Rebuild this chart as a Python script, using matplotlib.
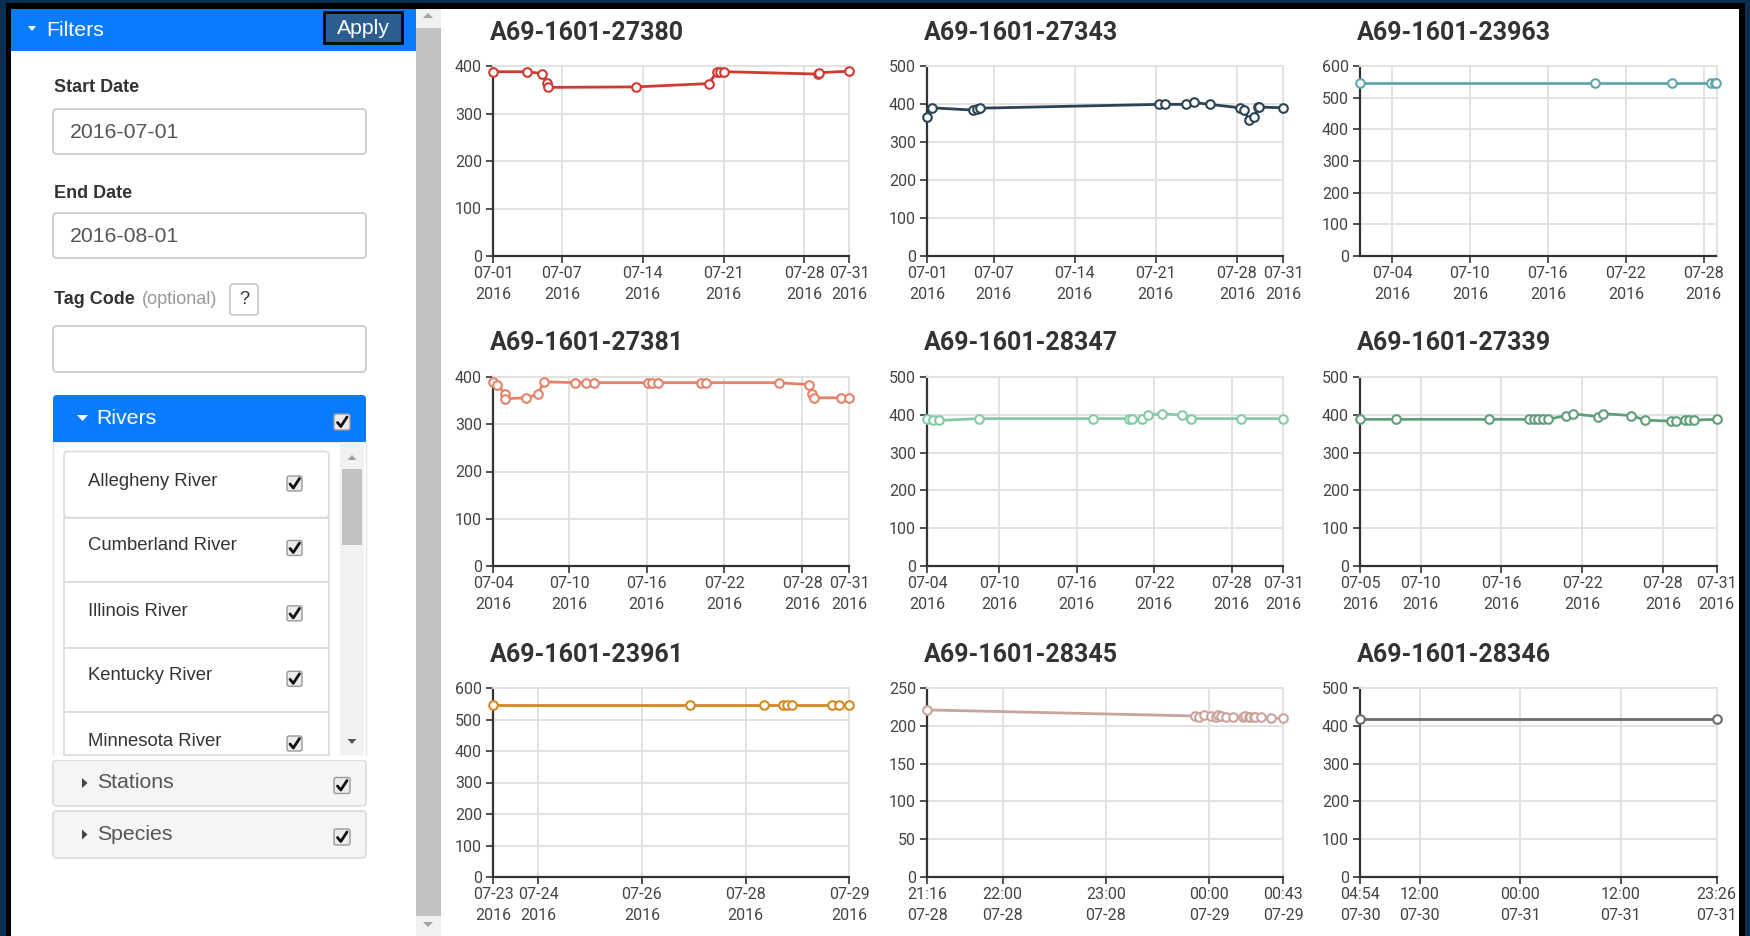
import matplotlib
matplotlib.use("Agg")
import matplotlib.pyplot as plt
import matplotlib.dates as mdates
from matplotlib.patches import Rectangle, FancyBboxPatch, Polygon
import pandas as pd

plt.rcParams['font.family'] = ['Roboto', 'DejaVu Sans']

W, H = 1750, 936

# ---------------- data ----------------
tags = ["A69-1601-27380", "A69-1601-27343", "A69-1601-23963",
        "A69-1601-27381", "A69-1601-28347", "A69-1601-27339",
        "A69-1601-23961", "A69-1601-28345", "A69-1601-28346"]

t_27380 = ["2016-07-01 00:30", "2016-07-04 00:00", "2016-07-05 07:00", "2016-07-05 16:00",
           "2016-07-05 19:00", "2016-07-13 10:00", "2016-07-19 17:00", "2016-07-20 10:00",
           "2016-07-20 17:00", "2016-07-21 02:00", "2016-07-29 05:00", "2016-07-29 07:00",
           "2016-07-31 21:00"]
v_27380 = [388, 388, 384, 365, 355, 356, 363, 387, 387, 388, 383, 386, 389]

t_27343 = ["2016-07-01 06:00", "2016-07-01 16:00", "2016-07-05 05:00", "2016-07-05 13:40",
           "2016-07-05 20:00", "2016-07-21 06:00", "2016-07-21 20:00", "2016-07-23 14:00",
           "2016-07-24 07:00", "2016-07-25 16:00", "2016-07-28 06:00", "2016-07-28 14:30",
           "2016-07-29 01:00", "2016-07-29 11:00", "2016-07-29 19:40", "2016-07-29 21:40",
           "2016-07-31 23:30"]
v_27343 = [365, 390, 384, 386, 389, 399, 399, 399, 404, 399, 390, 384, 358, 365, 391, 392, 390]

t_23963 = ["2016-07-01 13:00", "2016-07-19 15:00", "2016-07-25 13:00", "2016-07-28 14:00",
           "2016-07-28 20:00", "2016-07-28 23:30"]
v_23963 = [547, 547, 547, 547, 547, 547]

t_27381 = ["2016-07-04 03:00", "2016-07-04 11:20", "2016-07-05 00:50", "2016-07-05 01:30",
           "2016-07-06 16:00", "2016-07-07 13:30", "2016-07-08 01:40", "2016-07-10 10:30",
           "2016-07-11 08:00", "2016-07-11 22:20", "2016-07-16 02:30", "2016-07-16 10:00",
           "2016-07-16 21:00", "2016-07-20 05:20", "2016-07-20 14:40", "2016-07-26 04:40",
           "2016-07-28 12:40", "2016-07-28 17:40", "2016-07-28 21:30", "2016-07-31 00:45",
           "2016-07-31 15:00"]
v_27381 = [390, 384, 365, 354, 356, 363, 390, 388, 388, 388, 388, 388, 388, 388, 388, 388,
           384, 365, 356, 356, 356]

t_28347 = ["2016-07-04 09:40", "2016-07-04 20:20", "2016-07-05 07:30", "2016-07-08 09:50",
           "2016-07-17 05:30", "2016-07-20 01:30", "2016-07-20 06:30", "2016-07-21 02:20",
           "2016-07-21 12:40", "2016-07-22 15:30", "2016-07-24 04:00", "2016-07-24 21:00",
           "2016-07-28 17:00", "2016-07-31 23:40"]
v_28347 = [390, 385, 385, 390, 390, 390, 390, 390, 399, 403, 399, 390, 390, 390]

t_27339 = ["2016-07-05 12:00", "2016-07-08 04:30", "2016-07-15 01:40", "2016-07-18 01:30",
           "2016-07-18 10:20", "2016-07-18 17:30", "2016-07-19 01:30", "2016-07-19 11:30",
           "2016-07-20 19:00", "2016-07-21 07:00", "2016-07-23 04:00", "2016-07-23 13:00",
           "2016-07-25 15:40", "2016-07-26 16:30", "2016-07-28 15:00", "2016-07-29 00:00",
           "2016-07-29 15:00", "2016-07-29 22:00", "2016-07-30 08:00", "2016-07-31 23:30"]
v_27339 = [388, 388, 388, 388, 388, 388, 388, 388, 398, 403, 395, 403, 398, 386, 383, 383,
           386, 386, 386, 388]

t_23961 = ["2016-07-23 03:10", "2016-07-26 22:15", "2016-07-28 08:40", "2016-07-28 17:30",
           "2016-07-28 19:10", "2016-07-28 21:30", "2016-07-29 16:00", "2016-07-29 19:10",
           "2016-07-29 23:50"]
v_23961 = [545, 545, 545, 545, 545, 545, 545, 545, 545]

t_28345 = ["2016-07-28 21:16", "2016-07-28 23:52", "2016-07-28 23:54", "2016-07-28 23:57",
           "2016-07-29 00:01", "2016-07-29 00:04", "2016-07-29 00:05", "2016-07-29 00:07",
           "2016-07-29 00:10", "2016-07-29 00:14", "2016-07-29 00:20", "2016-07-29 00:21",
           "2016-07-29 00:23", "2016-07-29 00:24", "2016-07-29 00:26", "2016-07-29 00:27",
           "2016-07-29 00:30", "2016-07-29 00:36", "2016-07-29 00:43"]
v_28345 = [221, 213, 212, 214, 213, 212, 214, 213, 212, 211, 212, 213, 212, 211, 212, 211,
           211, 210, 210]

t_28346 = ["2016-07-30 04:54", "2016-07-31 23:26"]
v_28346 = [417, 417]

times = [t_27380, t_27343, t_23963, t_27381, t_28347, t_27339, t_23961, t_28345, t_28346]
values = [v_27380, v_27343, v_23963, v_27381, v_28347, v_27339, v_23961, v_28345, v_28346]

ticks_x = [
    ["2016-07-01 00:30", "2016-07-07 00:00", "2016-07-14 00:00", "2016-07-21 00:00", "2016-07-28 00:00", "2016-07-31 21:00"],
    ["2016-07-01 06:00", "2016-07-07 00:00", "2016-07-14 00:00", "2016-07-21 00:00", "2016-07-28 00:00", "2016-07-31 23:30"],
    ["2016-07-04 00:00", "2016-07-10 00:00", "2016-07-16 00:00", "2016-07-22 00:00", "2016-07-28 00:00"],
    ["2016-07-04 03:00", "2016-07-10 00:00", "2016-07-16 00:00", "2016-07-22 00:00", "2016-07-28 00:00", "2016-07-31 15:00"],
    ["2016-07-04 09:40", "2016-07-10 00:00", "2016-07-16 00:00", "2016-07-22 00:00", "2016-07-28 00:00", "2016-07-31 23:40"],
    ["2016-07-05 12:00", "2016-07-10 00:00", "2016-07-16 00:00", "2016-07-22 00:00", "2016-07-28 00:00", "2016-07-31 23:30"],
    ["2016-07-23 03:10", "2016-07-24 00:00", "2016-07-26 00:00", "2016-07-28 00:00", "2016-07-29 23:50"],
    ["2016-07-28 21:16", "2016-07-28 22:00", "2016-07-28 23:00", "2016-07-29 00:00", "2016-07-29 00:43"],
    ["2016-07-30 04:54", "2016-07-30 12:00", "2016-07-31 00:00", "2016-07-31 12:00", "2016-07-31 23:26"],
]
fmts = ["%m-%d\n%Y"] * 7 + ["%H:%M\n%m-%d"] * 2
ymax = [400, 500, 600, 400, 500, 500, 600, 250, 500]
ystep = [100, 100, 100, 100, 100, 100, 100, 50, 100]
colors = ["#cf3a33", "#2c4354", "#5fa8ad", "#e5826a", "#86cba5", "#5f9e78",
          "#d48a22", "#c9a49c", "#6b6b6b"]

rivers = ["Allegheny River", "Cumberland River", "Illinois River", "Kentucky River",
          "Minnesota River"]

# ---------------- figure ----------------
fig = plt.figure(figsize=(W / 100, H / 100), dpi=100)
fig.patch.set_facecolor("#0b2d52")

bg = fig.add_axes([0, 0, 1, 1], zorder=0)
bg.set_xlim(0, W)
bg.set_ylim(H, 0)
bg.axis("off")

SANS = ["Liberation Sans", "DejaVu Sans"]


def rect(x0, y0, x1, y1, fc, ec="none", lw=0, r=0, z=1):
    if r > 0:
        p = FancyBboxPatch((x0, y0), x1 - x0, y1 - y0,
                           boxstyle=f"round,pad=0,rounding_size={r}",
                           fc=fc, ec=ec, lw=lw, zorder=z)
    else:
        p = Rectangle((x0, y0), x1 - x0, y1 - y0, fc=fc, ec=ec, lw=lw, zorder=z)
    bg.add_patch(p)


def tri(pts, c, z=5):
    bg.add_patch(Polygon(pts, closed=True, fc=c, ec="none", zorder=z))


def checkbox(cx, cy, s=16):
    rect(cx - s / 2, cy - s / 2, cx + s / 2, cy + s / 2, "#ececec", "#9a9a9a", 1.0, r=2, z=6)
    bg.plot([cx - 4.5, cx - 1.2, cx + 5], [cy + 0.5, cy + 4.5, cy - 5],
            color="#111", lw=2.0, zorder=7, solid_capstyle="round")


# frames
rect(6, 3, 1745, H + 5, "#000000", z=0.5)
rect(11, 9, 1739, H + 5, "#ffffff", z=0.6)

# Filters header
rect(11, 9, 417, 51, "#0a7bff", z=1)
tri([(28, 26), (36, 26), (32, 31)], "white")
bg.text(46, 30, "Filters", color="white", fontsize=15.3, va="center", ha="left",
        family=SANS, zorder=6)
rect(324, 12, 402, 43, "#2b5d8f", "#050505", 2.0, z=5)
bg.text(363, 28, "Apply", color="white", fontsize=15.3, va="center", ha="center",
        family=SANS, zorder=6)

# main scrollbar
rect(416, 9, 441, H, "#f1f1f1", z=1)
rect(416, 28, 441, 916, "#c1c1c1", z=1.5)
tri([(423, 18), (433, 18), (428, 13)], "#a3a3a3")
tri([(423, 922), (433, 922), (428, 927)], "#a3a3a3")

# labels and inputs
bg.text(54, 88, "Start Date", color="#333333", fontsize=13, fontweight="bold",
        va="center", family=SANS)
rect(53, 109, 366, 154, "white", "#cccccc", 1.3, r=4, z=2)
bg.text(70, 132, "2016-07-01", color="#555555", fontsize=15.3, va="center", family=SANS)

bg.text(54, 193, "End Date", color="#333333", fontsize=13, fontweight="bold",
        va="center", family=SANS)
rect(53, 213, 366, 258, "white", "#cccccc", 1.3, r=4, z=2)
bg.text(70, 236, "2016-08-01", color="#555555", fontsize=15.3, va="center", family=SANS)

bg.text(54, 299, "Tag Code", color="#333333", fontsize=13, fontweight="bold",
        va="center", family=SANS)
bg.text(142, 299, "(optional)", color="#999999", fontsize=13, va="center", family=SANS)
rect(230, 284, 258, 315, "white", "#cccccc", 1.3, r=3, z=2)
bg.text(244, 300, "?", color="#333333", fontsize=13, va="center", ha="center", family=SANS,
        zorder=6)
rect(53, 326, 366, 372, "white", "#cccccc", 1.3, r=4, z=2)

# Rivers panel
rect(53, 395, 366, 442, "#0a7bff", r=4, z=2)
rect(53, 430, 366, 442, "#0a7bff", z=2.1)
tri([(77, 415), (88, 415), (82.5, 421)], "white")
bg.text(96, 419, "Rivers", color="white", fontsize=15.3, va="center", family=SANS, zorder=6)
checkbox(342, 422)

rect(53, 442, 366, 756, "white", "#e6e6e6", 1.0, z=1.8)
item_top = [451.5, 517.6, 581.7, 647.8, 711.5]
item_bot = [517.6, 581.7, 647.8, 711.5, 770]
text_y = [481, 546, 612, 676, 741.5]
check_y = [483.5, 548, 613.4, 678.8, 743.5]
for i, name in enumerate(rivers):
    rect(64, item_top[i], 329, min(item_bot[i], 755), "white", "#dddddd", 1.3,
         r=4 if i == 0 else 0, z=3)
    bg.text(88, text_y[i], name, color="#333333", fontsize=13.3, va="center",
            family=SANS, zorder=6)
    checkbox(294.5, check_y[i], s=15)
# list scrollbar
rect(340, 442, 364, 755, "#f1f1f1", z=4)
rect(342, 469, 362, 545, "#c1c1c1", z=4.5)
tri([(347.5, 460), (356.5, 460), (352, 455)], "#a3a3a3")
tri([(347.5, 739), (356.5, 739), (352, 744)], "#555555")
rect(11, 756, 400, 760, "white", z=5)

# Stations / Species
for (y0, y1, label) in [(760, 806, "Stations"), (811, 858, "Species")]:
    rect(53, y0, 366, y1, "#f5f5f5", "#dddddd", 1.3, r=4, z=2)
    cy = (y0 + y1) / 2
    tri([(82, cy - 5), (87.5, cy), (82, cy + 5)], "#444444")
    bg.text(97, cy, label, color="#555555", fontsize=15.3, va="center", family=SANS, zorder=6)
    checkbox(342, cy + 2.5)

# ---------------- charts ----------------
col_x = [(493, 849), (927, 1283), (1360, 1716.5)]
row_y = [(66, 256), (377, 566), (688, 877)]
title_y = [33, 343, 655]

for k in range(9):
    r, c = divmod(k, 3)
    x0, x1 = col_x[c]
    y0, y1 = row_y[r]
    ax = fig.add_axes([x0 / W, 1 - y1 / H, (x1 - x0) / W, (y1 - y0) / H], zorder=2)
    ax.set_facecolor("white")
    tt = pd.to_datetime(times[k], format="%Y-%m-%d %H:%M")
    ax.plot(tt, values[k], color=colors[k], lw=2.0, marker="o", ms=6.2,
            mfc="white", mec=colors[k], mew=1.5, zorder=3, clip_on=False)
    ax.set_xlim(tt.min(), tt.max())
    ax.set_ylim(0, ymax[k])
    ax.set_yticks(list(range(0, ymax[k] + 1, ystep[k])))
    ax.set_xticks(pd.to_datetime(ticks_x[k], format="%Y-%m-%d %H:%M"))
    ax.xaxis.set_major_formatter(mdates.DateFormatter(fmts[k]))
    ax.grid(True, color="#e2e2e2", lw=1.4, zorder=0)
    ax.set_axisbelow(True)
    for s in ["top", "right"]:
        ax.spines[s].set_color("#e2e2e2")
        ax.spines[s].set_linewidth(1.4)
    for s in ["left", "bottom"]:
        ax.spines[s].set_color("#333333")
        ax.spines[s].set_linewidth(1.6)
    ax.tick_params(direction="out", length=5, width=1.2, color="#333333",
                   labelcolor="#444444", labelsize=11.5)
    ax.tick_params(axis="y", pad=3)
    ax.tick_params(axis="x", pad=2.5)
    fig.canvas.draw()
    for lab in ax.get_xticklabels():
        lab.set_linespacing(1.45)
    fig.text((x0 - 3) / W, 1 - title_y[r] / H, tags[k], fontsize=18, fontweight="bold",
             color="#333333", va="center", ha="left")

fig.savefig("out.png", dpi=100, facecolor=fig.get_facecolor())
